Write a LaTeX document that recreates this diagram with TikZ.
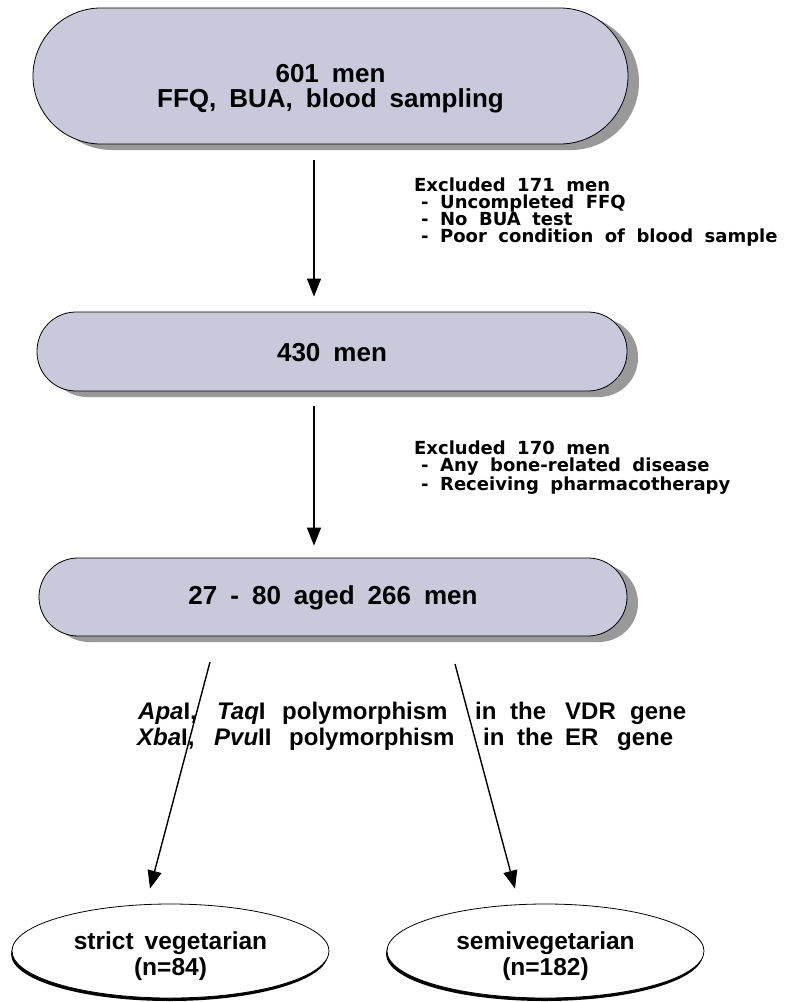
\documentclass[tikz,border=0pt]{standalone}
\usepackage{fontspec}
\setmainfont{Liberation Sans}
\newfontfamily\boxfont{Liberation Sans}
\newfontfamily\exfont{DejaVu Sans}
\newfontfamily\polyfont{Liberation Sans}
\newcommand\bxfnt{\boxfont\bfseries\fontsize{26}{25}\selectfont\spaceskip 13pt\relax}
\newcommand\grfnt{\boxfont\bfseries\fontsize{24.5}{26}\selectfont\spaceskip 11pt\relax}
\newcommand\exfnt{\exfont\bfseries\fontsize{18}{17}\selectfont\spaceskip 11.5pt\relax}
\newcommand\plfnt{\polyfont\bfseries\fontsize{24}{24}\selectfont}
\usetikzlibrary{arrows.meta,shadows,shapes.geometric}
\definecolor{boxfill}{RGB}{200,202,220}
\definecolor{shadowgray}{RGB}{153,153,153}
\begin{document}
\begin{tikzpicture}[x=1pt,y=-1pt,
  stage/.style={draw=black, line width=0.8pt, fill=boxfill,
    drop shadow={shadow xshift=11pt, shadow yshift=-6pt, fill=shadowgray, opacity=1}},
  grp/.style={ellipse, draw=black, line width=0.8pt, fill=white,
    minimum width=317pt, minimum height=94pt, inner sep=0pt,
    drop shadow={shadow xshift=-1pt, shadow yshift=-3pt, fill=black, opacity=1}},
  arr/.style={line width=1.4pt, -{Triangle[length=18pt,width=14pt]}},
  boxtext/.style={font=\bxfnt, align=center, inner sep=0pt},
  grptext/.style={font=\grfnt, align=center, inner sep=0pt},
  extext/.style={font=\exfnt, align=left, anchor=north west, inner sep=0pt},
  polytext/.style={font=\plfnt, anchor=base west, inner sep=0pt}
]
\useasboundingbox (0,0) rectangle (791,1002);

% stage boxes
\node[stage, minimum width=595pt, minimum height=136pt, rounded corners=68pt] (b1) at (330.5,76) {};
\node[boxtext] (t1) at (330.5,89) {601 men\\FFQ, BUA, blood sampling};

\node[stage, minimum width=590pt, minimum height=79pt, rounded corners=39pt] (b2) at (332,351.5) {};
\node[boxtext] (t2) at (332,353) {430 men};

\node[stage, minimum width=588pt, minimum height=78pt, rounded corners=39pt] (b3) at (333,597) {};
\node[boxtext] (t3) at (333,598) {27 - 80 aged 266 men};

% vertical arrows
\draw[arr] ([xshift=-16.5pt,yshift=-16pt]b1.south) -- ([xshift=-18pt,yshift=15pt]b2.north);
\draw[arr] ([xshift=-18pt,yshift=-15pt]b2.south) -- ([xshift=-19pt,yshift=12pt]b3.north);

% exclusion notes
\node[extext] (e1) at (414,178) {Excluded 171 men\\
\hspace*{7pt}- Uncompleted FFQ\\
\hspace*{7pt}- No BUA test\\
\hspace*{7pt}- Poor condition of blood sample};
\node[extext] (e2) at (414,441) {Excluded 170 men\\
\hspace*{7pt}- Any bone-related disease\\
\hspace*{7pt}- Receiving pharmacotherapy};

% groups
\node[grp] (g1) at (170.5,951) {};
\node[grptext] (gt1) at (170.5,956) {strict vegetarian\\(n=84)};
\node[grp] (g2) at (545.5,951) {};
\node[grptext] (gt2) at (545.5,956) {semivegetarian\\(n=182)};

% diagonal arrows
\coordinate (d1) at (210,662);
\coordinate (d2) at (455,664);
\draw[arr] (d1) -- ([xshift=-20.5pt,yshift=15pt]g1.north);
\draw[arr] (d2) -- ([xshift=-30.5pt,yshift=15pt]g2.north);

% polymorphism text
\node[polytext] (p1) at (138,719.5) {\rlap{\textit{Apa}I,}\hspace{79pt}\rlap{\textit{Taq}I}\hspace{65pt}\rlap{polymorphism}\hspace{193pt}\rlap{in}\hspace{35pt}\rlap{the}\hspace{55pt}\rlap{VDR}\hspace{65pt}gene};
\node[polytext] (p2) at (137,745.5) {\rlap{\textit{Xba}I,}\hspace{77pt}\rlap{\textit{Pvu}II}\hspace{75pt}\rlap{polymorphism}\hspace{194pt}\rlap{in}\hspace{34pt}\rlap{the}\hspace{48pt}\rlap{ER}\hspace{52pt}gene};
\end{tikzpicture}
\end{document}
